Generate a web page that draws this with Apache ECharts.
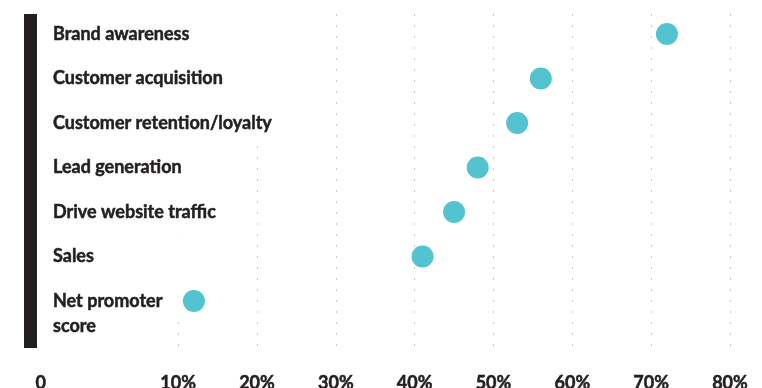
<!DOCTYPE html>
<html>
<head>
<meta charset="utf-8">
<script src="https://cdn.jsdelivr.net/npm/echarts@6/dist/echarts.min.js"></script>
<style>
  html, body { margin: 0; padding: 0; background: #fff; }
  #chart { width: 762px; height: 388px; }
</style>
</head>
<body>
<div id="chart"></div>
<script>
// Marketing goals and the share of respondents naming each one
const categories = [
  'Brand awareness',
  'Customer acquisition',
  'Customer retention/loyalty',
  'Lead generation',
  'Drive website traffic',
  'Sales',
  'Net promoter score'
];
const shares = [72, 56, 53, 48, 45, 41, 12];

// Percentage scale
const axisMin = 0;
const axisMax = 80;
const axisStep = 10;

const ink = '#231f20';
const dotColor = '#52c3cf';
const font = 'Lato';

const plotLeft = 99.3;
const plotRight = 32;
const plotTop = 14;
const plotBottom = 40;
const rowHeight = 44.5;

const chart = echarts.init(document.getElementById('chart'));

// Row labels sit on white blocks that hide the dotted guides behind them
function rowLabel(value, index) {
  if (index <= 2) return '{wide|' + value + '}';
  if (index <= 5) return '{mid|' + value + '}';
  const cut = value.lastIndexOf(' ');
  return '{sp| }\n{n1|' + value.slice(0, cut) + '}\n{n2|' + value.slice(cut + 1) + '}';
}

// heavy lettering: bold face with a thin outline in the same ink
const labelText = {
  fontFamily: font, fontWeight: 'bold', fontSize: 18, color: ink,
  textBorderColor: ink, textBorderWidth: 0.5
};

chart.setOption({
  animation: false,
  // dark bar running down the left edge of the label column
  graphic: [
    {
      type: 'rect',
      z: 5,
      shape: { x: 24, y: plotTop, width: 13, height: 388 - plotTop - plotBottom },
      style: { fill: ink }
    }
  ],
  grid: [
    { left: plotLeft, right: plotRight, top: plotTop, bottom: plotBottom, containLabel: false, outerBoundsMode: 'none' },
    { left: plotLeft, right: plotRight, top: 34 - rowHeight / 2, height: rowHeight * categories.length, containLabel: false, outerBoundsMode: 'none' }
  ],
  xAxis: [
    {
      gridIndex: 0,
      type: 'value',
      min: axisMin,
      max: axisMax,
      interval: axisStep,
      z: 0,
      axisLine: { show: false },
      axisTick: { show: false },
      splitLine: {
        show: true,
        showMinLine: false,
        lineStyle: { color: '#c8c8c8', width: 1, type: [2, 9] }
      },
      axisLabel: Object.assign({
        margin: 26,
        formatter: function (v) {
          return v === 0 ? '{zero|0}' : v + '%';
        },
        rich: {
          zero: Object.assign({ padding: [0, 117, 0, 0] }, labelText)
        }
      }, labelText)
    },
    {
      gridIndex: 1,
      type: 'value',
      min: axisMin,
      max: axisMax,
      show: false
    }
  ],
  yAxis: [
    {
      gridIndex: 0,
      type: 'value',
      show: false
    },
    {
      gridIndex: 1,
      type: 'category',
      inverse: true,
      data: categories,
      z: 1,
      axisLine: { show: false },
      axisTick: { show: false },
      splitLine: { show: false },
      axisLabel: {
        interval: 0,
        align: 'left',
        margin: plotLeft - 53,
        formatter: rowLabel,
        rich: {
          wide: Object.assign({ width: 245, height: rowHeight, backgroundColor: '#fff' }, labelText),
          mid: Object.assign({ width: 180, height: rowHeight, backgroundColor: '#fff' }, labelText),
          sp: Object.assign({ width: 135, height: 25, backgroundColor: '#fff' }, labelText),
          n1: Object.assign({ width: 135, height: 25, backgroundColor: '#fff' }, labelText),
          n2: Object.assign({ height: 25 }, labelText)
        }
      }
    }
  ],
  series: [
    {
      type: 'scatter',
      xAxisIndex: 1,
      yAxisIndex: 1,
      z: 2,
      symbol: 'circle',
      symbolSize: 22,
      itemStyle: { color: dotColor, opacity: 1 },
      data: shares
    }
  ]
});
</script>
</body>
</html>
